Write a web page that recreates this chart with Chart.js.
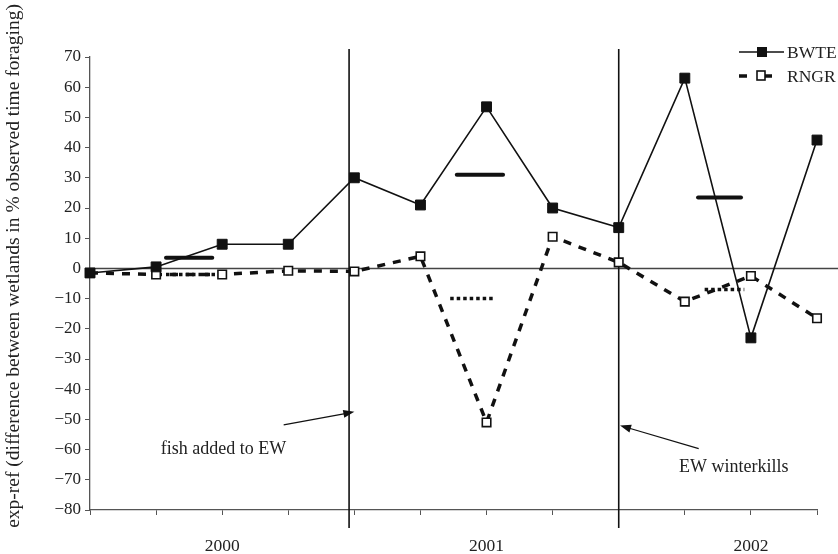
<!DOCTYPE html>
<html>
<head>
<meta charset="utf-8">
<script src="https://cdn.jsdelivr.net/npm/chart.js@4.4.1/dist/chart.umd.min.js"></script>
<style>
  html, body { margin: 0; padding: 0; background: #fff; }
  #wrap { width: 838px; height: 554px; }
</style>
</head>
<body>
<div id="wrap"><canvas id="chart" width="838" height="554"></canvas></div>
<script>
// tick labels along the time axis (one per sampling period)
const tickLabels = ['', '', '2000', '', '', '', '2001', '', '', '', '2002', ''];
const bwte = [-1.5, 0.5, 8, 8, 30, 21, 53.5, 20, 13.5, 63, -23, 42.5];
const rngr = [-1.5, -2, -2, -0.8, -1, 4, -51, 10.5, 2, -11, -2.5, -16.5];

// yearly means, drawn as short horizontal bars
const bwteMean = [3.5, 31, 23.5];
const bwteMeanFrom = [1.15, 5.55, 9.2];
const bwteMeanTo = [1.85, 6.25, 9.85];
const rngrMean = [-2, -10, -7];
const rngrMeanFrom = [1.15, 5.45, 9.3];
const rngrMeanTo = [1.9, 6.1, 9.9];

// events (vertical lines) on the time axis
const eventX = [3.92, 8.0];

const serif = '"Liberation Serif", "DejaVu Serif", serif';

const datasets = [
    {
        label: 'BWTE',
        data: bwte.map((v, i) => ({ x: i, y: v })),
        borderColor: '#111',
        borderWidth: 1.6,
        pointStyle: 'rect',
        pointRadius: 7,
        pointBackgroundColor: '#111',
        pointBorderColor: '#111',
        pointBorderWidth: 1,
        tension: 0,
        clip: false
    },
    {
        label: 'RNGR',
        data: rngr.map((v, i) => ({ x: i, y: v })),
        borderColor: '#111',
        borderWidth: 3.5,
        borderDash: [8, 8],
        pointStyle: 'rect',
        pointRadius: 6,
        pointBackgroundColor: '#fff',
        pointBorderColor: '#111',
        pointBorderWidth: 1.6,
        tension: 0,
        clip: false
    }
];

bwteMean.forEach((m, i) => {
    datasets.push({
        label: 'bwteMean' + i,
        data: [{ x: bwteMeanFrom[i], y: m }, { x: bwteMeanTo[i], y: m }],
        borderColor: '#111',
        borderWidth: 4,
        borderCapStyle: 'round',
        pointRadius: 0,
        clip: false
    });
});
rngrMean.forEach((m, i) => {
    datasets.push({
        label: 'rngrMean' + i,
        data: [{ x: rngrMeanFrom[i], y: m }, { x: rngrMeanTo[i], y: m }],
        borderColor: '#111',
        borderWidth: 3.5,
        borderDash: [3.5, 3],
        pointRadius: 0,
        clip: false
    });
});

function arrow(ctx, x1, y1, x2, y2) {
    const ang = Math.atan2(y2 - y1, x2 - x1);
    ctx.beginPath();
    ctx.moveTo(x1, y1);
    ctx.lineTo(x2 - 8 * Math.cos(ang), y2 - 8 * Math.sin(ang));
    ctx.stroke();
    ctx.beginPath();
    ctx.moveTo(x2, y2);
    ctx.lineTo(x2 - 11 * Math.cos(ang) + 4 * Math.sin(ang), y2 - 11 * Math.sin(ang) - 4 * Math.cos(ang));
    ctx.lineTo(x2 - 11 * Math.cos(ang) - 4 * Math.sin(ang), y2 - 11 * Math.sin(ang) + 4 * Math.cos(ang));
    ctx.closePath();
    ctx.fill();
}

const backLines = {
    id: 'backLines',
    beforeDatasetsDraw(chart) {
        const { ctx, chartArea, scales } = chart;
        ctx.save();
        // zero line runs out past the plot to the page edge
        ctx.strokeStyle = '#444';
        ctx.lineWidth = 1.5;
        const y0 = scales.y.getPixelForValue(0);
        ctx.beginPath();
        ctx.moveTo(chartArea.left, y0);
        ctx.lineTo(chart.width, y0);
        ctx.stroke();
        // event lines
        ctx.strokeStyle = '#111';
        ctx.lineWidth = 1.6;
        eventX.forEach(v => {
            const x = scales.x.getPixelForValue(v);
            ctx.beginPath();
            ctx.moveTo(x, chartArea.top - 8);
            ctx.lineTo(x, chartArea.bottom + 18);
            ctx.stroke();
        });
        ctx.restore();
    }
};

const extras = {
    id: 'extras',
    afterDraw(chart) {
        const { ctx, scales } = chart;
        const px = v => scales.x.getPixelForValue(v);
        const py = v => scales.y.getPixelForValue(v);
        ctx.save();

        // y axis title
        ctx.fillStyle = '#222';
        ctx.font = '19.5px ' + serif;
        ctx.textAlign = 'center';
        ctx.textBaseline = 'middle';
        ctx.translate(14, 266);
        ctx.rotate(-Math.PI / 2);
        ctx.fillText('exp-ref (difference between wetlands in % observed time foraging)', 0, 0);
        ctx.setTransform(1, 0, 0, 1, 0, 0);

        // annotations
        ctx.font = '18px ' + serif;
        ctx.fillText('fish added to EW', px(2.02), py(-60));
        ctx.fillText('EW winterkills', px(9.74), py(-65.8));
        ctx.strokeStyle = '#111';
        ctx.fillStyle = '#111';
        ctx.lineWidth = 1.2;
        arrow(ctx, px(2.93), py(-51.8), px(4.0), py(-47.5));
        arrow(ctx, px(9.21), py(-59.7), px(8.02), py(-52));

        // legend
        ctx.lineWidth = 1.6;
        ctx.beginPath();
        ctx.moveTo(739, 52);
        ctx.lineTo(784, 52);
        ctx.stroke();
        ctx.fillRect(757, 47, 10, 10);
        ctx.lineWidth = 3.5;
        ctx.beginPath();
        ctx.moveTo(739, 76);
        ctx.lineTo(747, 76);
        ctx.moveTo(763, 76);
        ctx.lineTo(772, 76);
        ctx.stroke();
        ctx.lineWidth = 1.6;
        ctx.fillStyle = '#fff';
        ctx.fillRect(757, 71, 8, 9);
        ctx.strokeRect(757, 71, 8, 9);
        ctx.fillStyle = '#222';
        ctx.font = '17.5px ' + serif;
        ctx.textAlign = 'left';
        ctx.fillText('BWTE', 787, 53);
        ctx.fillText('RNGR', 787, 77);
        ctx.restore();
    }
};

new Chart(document.getElementById('chart'), {
    type: 'line',
    data: { datasets: datasets },
    options: {
        responsive: false,
        animation: false,
        devicePixelRatio: 1,
        layout: { padding: { top: 57, right: 16, left: 0, bottom: 0 } },
        plugins: {
            legend: { display: false },
            tooltip: { enabled: false }
        },
        scales: {
            x: {
                type: 'linear',
                min: 0,
                max: 11,
                afterFit: scale => { scale.height = 44; },
                ticks: {
                    stepSize: 1,
                    autoSkip: false,
                    maxRotation: 0,
                    padding: 21,
                    color: '#222',
                    font: { family: serif, size: 17.5 },
                    callback: v => tickLabels[v] !== undefined ? tickLabels[v] : ''
                },
                grid: { drawOnChartArea: false, tickLength: 5, color: '#555' },
                border: { color: '#555', width: 1.3 }
            },
            y: {
                min: -80,
                max: 70,
                afterFit: scale => { scale.width = 90; },
                ticks: {
                    stepSize: 10,
                    padding: 4,
                    color: '#222',
                    font: { family: serif, size: 17 },
                    callback: v => v < 0 ? '\u2212' + Math.abs(v) : String(v)
                },
                grid: { drawOnChartArea: false, tickLength: 5, color: '#555' },
                border: { color: '#555', width: 1.3 }
            }
        }
    },
    plugins: [backLines, extras]
});
</script>
</body>
</html>
